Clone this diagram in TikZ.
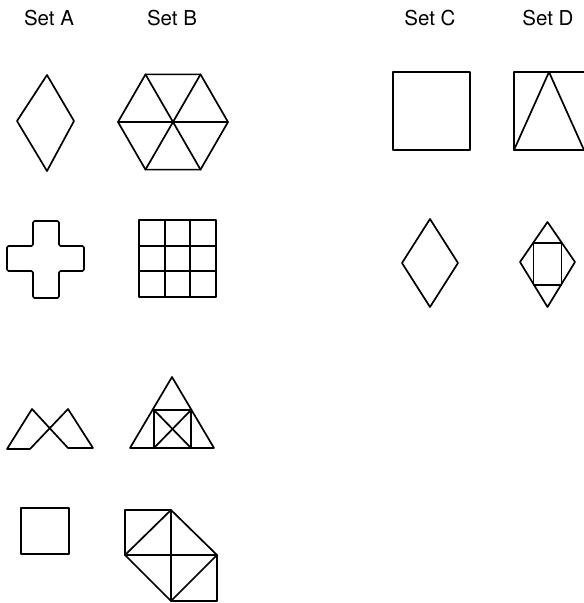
\documentclass[tikz,border=0pt]{standalone}
\usepackage{fontspec}
\setmainfont{TeX Gyre Heros}
\begin{document}
\begin{tikzpicture}[x=1pt,y=-1pt,
  shp/.style={line width=1.7pt,line join=round,line cap=round},
  lbl/.style={font=\fontsize{20.5}{24}\selectfont,inner sep=0pt,anchor=base}]
\useasboundingbox (0,0) rectangle (584,603);
% labels
\node[lbl] (la) at (49,25) {Set A};
\node[lbl] (lb) at (172,25) {Set B};
\node[lbl] (lc) at (430,25) {Set C};
\node[lbl] (ld) at (548,25) {Set D};
% Set A
\draw[shp] (47,75) -- (74,121) -- (47,171) -- (17,121) -- cycle;
\draw[shp,rounded corners=1.5pt] (33,221) -- (59,221) -- (59,246) -- (84,246) -- (84,271) -- (59,271) -- (59,298) -- (33,298) -- (33,271) -- (7,271) -- (7,246) -- (33,246) -- cycle;
\draw[shp] (7,449) -- (32,409) -- (68,448) -- (93,448) -- (68,409) -- (30,449) -- cycle;
\draw[shp] (21,508) rectangle (69,554);
% Set B
\coordinate (hc) at (173,122);
\draw[shp] (hc) ++(0:55) -- ++(120:55) -- ++(180:55) -- ++(240:55) -- ++(300:55) -- ++(0:55) -- cycle;
\draw[shp] (118,122) -- (228,122) (145.5,74.4) -- (200.5,169.6) (200.5,74.4) -- (145.5,169.6);
\draw[shp] (139,220) rectangle (216,297);
\draw[shp] (164.7,220) -- (164.7,297) (190.3,220) -- (190.3,297) (139,245.7) -- (216,245.7) (139,271.3) -- (216,271.3);
\draw[shp] (130,448) -- (172,377) -- (214,448) -- cycle;
\draw[shp] (154,410) rectangle (191,448);
\draw[shp] (154,410) -- (191,448) (191,410) -- (154,448);
\draw[shp] (125,510) -- (171,510) -- (217,555) -- (217,601) -- (171,601) -- (125,555) -- cycle;
\draw[shp] (125,510) -- (125,555) -- (217,555) (171,510) -- (171,601) (125,555) -- (171,510) (171,601) -- (217,555);
% Set C
\draw[shp] (393,72) rectangle (470,150);
\draw[shp] (430,219) -- (458,263) -- (430,307) -- (402,263) -- cycle;
% Set D
\draw[shp] (588,72) -- (514,72) -- (514,150) -- (588,150);
\draw[shp] (514,150) -- (549,72) -- (584,150);
\draw[shp] (547.5,222) -- (575,262) -- (547.5,307) -- (520,262) -- cycle;
\draw[shp] (533.5,243) rectangle (561.5,285);
\end{tikzpicture}
\end{document}
